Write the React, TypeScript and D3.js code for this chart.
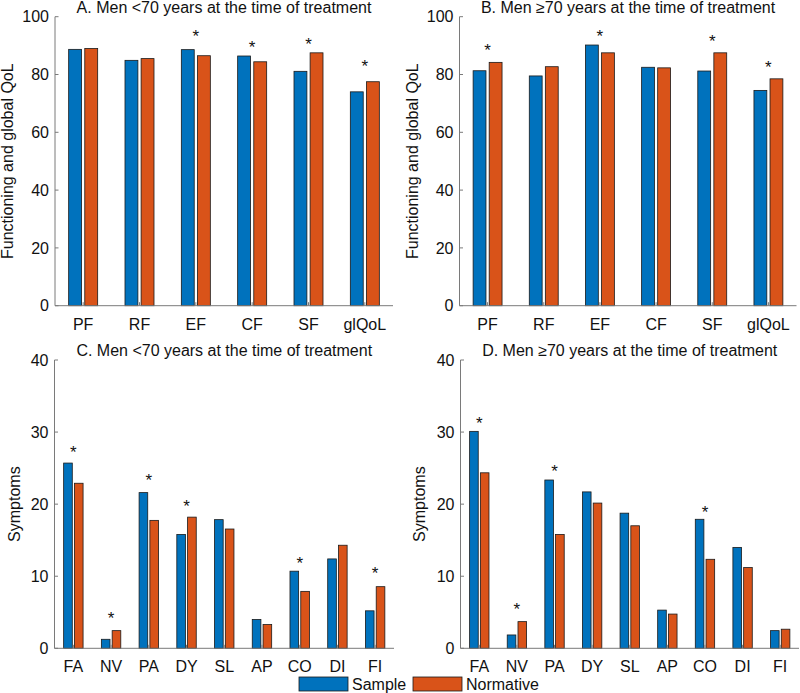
import React from "react";
import * as d3 from "d3";

const catsFunc = ["PF", "RF", "EF", "CF", "SF", "glQoL"];
const sampleA = [88.7, 84.9, 88.6, 86.4, 81.1, 74.0];
const normA = [89.0, 85.5, 86.5, 84.4, 87.5, 77.5];
const starsA = [null, null, 94.4, 90.6, 91.7, 83.9];
const sampleB = [81.3, 79.5, 90.2, 82.5, 81.2, 74.5];
const normB = [84.2, 82.7, 87.5, 82.3, 87.5, 78.5];
const starsB = [89.6, null, 94.3, null, 92.5, 83.6];

const catsSym = ["FA", "NV", "PA", "DY", "SL", "AP", "CO", "DI", "FI"];
const sampleC = [25.7, 1.25, 21.6, 15.8, 17.85, 4.0, 10.7, 12.4, 5.2];
const normC = [22.9, 2.45, 17.75, 18.2, 16.55, 3.3, 7.9, 14.3, 8.55];
const starsC = [27.7, 4.6, 23.8, 20.2, null, null, 12.3, null, 10.9];
const sampleD = [30.1, 1.85, 23.35, 21.7, 18.75, 5.3, 17.9, 14.0, 2.45];
const normD = [24.35, 3.7, 15.8, 20.15, 17.0, 4.75, 12.35, 11.2, 2.65];
const starsD = [31.7, 5.8, 25.0, null, null, null, 19.3, null, null];

const ticksFunc = [0, 20, 40, 60, 80, 100];
const ticksSym = [0, 10, 20, 30, 40];
const seriesNames = ["Sample", "Normative"];
const colors = ["#0072BD", "#D95319"];

const FONT = "'Liberation Sans', Arial, Helvetica, sans-serif";
const AXIS = "#7a7a7a";

type PanelProps = {
  x0: number; x1: number; yTop: number; yBot: number; max: number;
  ticks: number[]; title: string; titleY: number; ylabel: string; ylabelX: number;
  cats: string[]; sample: number[]; norm: number[]; stars: (number | null)[];
};

function Panel(p: PanelProps) {
  const n = p.cats.length;
  const x = d3.scaleLinear().domain([0.5, n + 0.5]).range([p.x0, p.x1]);
  const y = d3.scaleLinear().domain([0, p.max]).range([p.yBot, p.yTop]);
  const unit = x(2) - x(1);
  const bw = 0.229 * unit;
  const off = 0.143 * unit;
  const series = [p.sample, p.norm];
  return (
    <g>
      <text x={(p.x0 + p.x1) / 2} y={p.titleY} textAnchor="middle" fontSize={16} fill="#111">{p.title}</text>
      {series.map((vals, s) =>
        vals.map((v, i) => (
          <rect key={`b${s}-${i}`}
            x={x(i + 1) + (s === 0 ? -off : off) - bw / 2}
            y={y(v)} width={bw} height={y(0) - y(v)}
            fill={colors[s]} stroke="#1a1a1a" strokeWidth={0.8} />
        ))
      )}
      {p.stars.map((v, i) => v == null ? null : (
        <text key={`s${i}`} x={x(i + 1)} y={y(v) + 9} textAnchor="middle" fontSize={17} fill="#111">*</text>
      ))}
      <line x1={p.x0} x2={p.x0} y1={p.yTop} y2={p.yBot} stroke={AXIS} strokeWidth={1} />
      <line x1={p.x0} x2={p.x1} y1={p.yBot} y2={p.yBot} stroke={AXIS} strokeWidth={1} />
      {p.ticks.map((t) => (
        <g key={`t${t}`}>
          <line x1={p.x0} x2={p.x0 + 3.5} y1={y(t)} y2={y(t)} stroke={AXIS} />
          <text x={p.x0 - 6} y={y(t)} dy="0.35em" textAnchor="end" fontSize={16} fill="#111">{t}</text>
        </g>
      ))}
      {p.cats.map((c, i) => (
        <g key={`c${c}`}>
          <line x1={x(i + 1)} x2={x(i + 1)} y1={p.yBot} y2={p.yBot - 3.5} stroke={AXIS} />
          <text x={x(i + 1)} y={p.yBot + 24} textAnchor="middle" fontSize={16} fill="#111">{c}</text>
        </g>
      ))}
      <text transform={`translate(${p.ylabelX},${(p.yTop + p.yBot) / 2}) rotate(-90)`} textAnchor="middle" fontSize={16} fill="#111">{p.ylabel}</text>
    </g>
  );
}

export default function App() {
  return (
    <svg width={800} height={693} style={{ position: "absolute", left: 0, top: 0, background: "#fff" }} fontFamily={FONT}>
      <rect x={0} y={0} width={800} height={693} fill="#fff" />
      <Panel x0={55} x1={393} yTop={16.7} yBot={305.7} max={100} ticks={ticksFunc}
        title="A. Men <70 years at the time of treatment" titleY={13} ylabel="Functioning and global QoL" ylabelX={13}
        cats={catsFunc} sample={sampleA} norm={normA} stars={starsA} />
      <Panel x0={459.5} x1={796.5} yTop={16.7} yBot={305.7} max={100} ticks={ticksFunc}
        title="B. Men ≥70 years at the time of treatment" titleY={13} ylabel="Functioning and global QoL" ylabelX={418}
        cats={catsFunc} sample={sampleB} norm={normB} stars={starsB} />
      <Panel x0={54.5} x1={394} yTop={360} yBot={648.3} max={40} ticks={ticksSym}
        title="C. Men <70 years at the time of treatment" titleY={356} ylabel="Symptoms" ylabelX={20}
        cats={catsSym} sample={sampleC} norm={normC} stars={starsC} />
      <Panel x0={460.5} x1={799} yTop={360} yBot={648.3} max={40} ticks={ticksSym}
        title="D. Men ≥70 years at the time of treatment" titleY={356} ylabel="Symptoms" ylabelX={425}
        cats={catsSym} sample={sampleD} norm={normD} stars={starsD} />
      <g>
        {seriesNames.map((name, i) => {
          const lx = i === 0 ? 299 : 413;
          return (
            <g key={name}>
              <rect x={lx} y={677} width={49} height={14} fill={colors[i]} stroke="#1a1a1a" strokeWidth={0.8} />
              <text x={lx + 53} y={689.5} fontSize={16} fill="#111">{name}</text>
            </g>
          );
        })}
      </g>
    </svg>
  );
}
